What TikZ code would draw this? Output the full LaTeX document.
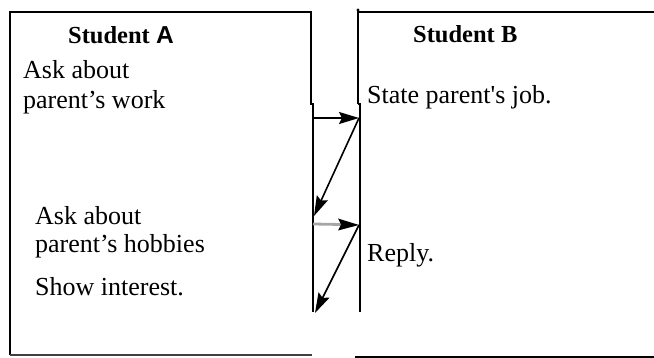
\documentclass[tikz,border=0pt]{standalone}
\usepackage{fontspec}
\setmainfont{Liberation Serif}
\newfontfamily\sansbold{Liberation Sans}
\usetikzlibrary{arrows.meta}
\tikzset{
  x=1pt, y=-1pt,
  boxline/.style={line width=2.4pt, black},
  thinbox/.style={line width=1.8pt, black},
  txt/.style={anchor=base west, inner sep=0pt, font=\fontsize{26}{30}\selectfont},
  head/.style={anchor=base west, inner sep=0pt, font=\fontsize{24.5}{29}\selectfont\bfseries},
  msg/.style={line width=1.6pt, -{Stealth[length=20pt,width=12pt,inset=3pt]}},
}
\begin{document}
\begin{tikzpicture}
\useasboundingbox (0,0) rectangle (654,358);
% Student A box
\draw[boxline] (311,105) -- (311,12) -- (10,12) -- (10,355);
\draw[line width=2pt, black!75] (10,355) -- (312,355);
\draw[thinbox] (311,104) -- (313,104) -- (313,312);
% Student B box
\draw[boxline] (654,12) -- (358,12) -- (358,104);
\fill (358,10) circle (1.6pt);
\draw[thinbox] (358,104) -- (360,104) -- (360,312);
\draw[line width=2pt] (355,357) -- (654,357);
% texts
\node[head] (ha) at (68,44) {Student {\sansbold A}};
\node[head] (hb) at (413,43) {Student B};
\node[txt] (a1) at (23,79) {Ask about};
\node[txt] (a2) at (23,109) {parent’s work};
\node[txt] (b1) at (367,104) {State parent\textquotesingle s job.};
\node[txt] (a3) at (35,225) {Ask about};
\node[txt] (a4) at (35,253) {parent’s hobbies};
\node[txt] (b2) at (367,262) {Reply.};
\node[txt] (a5) at (35,296) {Show interest.};
% connector end points
\coordinate (p1) at (313,118);
\coordinate (q1) at (359,118);
\coordinate (p2) at (314,216);
\coordinate (p3) at (313,224);
\coordinate (q2) at (359,225);
\coordinate (p4) at (315,313);
\draw[msg] (p1) -- (q1);
\draw[msg] (q1) -- (p2);
\draw[line width=2.8pt, black!35] (p3) -- (341,224.5);
\fill (338,218.5) -- (359,225) -- (338,230.5) -- (341,224.5) -- cycle;
\draw[msg] (q2) -- (p4);
\end{tikzpicture}
\end{document}
